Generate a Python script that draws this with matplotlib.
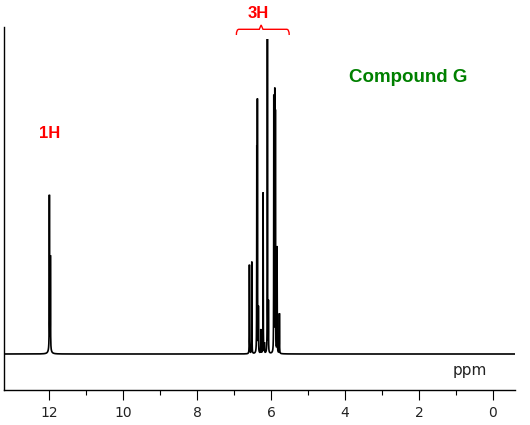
import numpy as np
import matplotlib
matplotlib.use("Agg")
import matplotlib.pyplot as plt
from matplotlib.path import Path
from matplotlib.patches import PathPatch

# Peak list: chemical shift (ppm) and height (arb. units)
peak_ppm = [12.000, 11.972,
            6.587, 6.522, 6.387, 6.371, 6.344, 6.279, 6.216, 6.181,
            6.100, 6.073, 5.927, 5.900, 5.884, 5.838, 5.775]
peak_height = [152, 92,
               89, 92, 200, 248, 44, 24, 161, 10,
               314, 50, 255, 255, 234, 106, 40]
# broad base under the acid proton
broad_ppm = [11.99]
broad_height = [7]

major_ticks = [12, 10, 8, 6, 4, 2, 0]
minor_ticks = [11, 9, 7, 5, 3, 1]
tick_labels = ["12", "10", "8", "6", "4", "2", "0"]

x = np.linspace(13.3, -0.7, 80001)
y = np.zeros_like(x)
g = 0.003
for p, h in zip(peak_ppm, peak_height):
    y += h * g**2 / ((x - p)**2 + g**2)
gb = 0.03
for p, h in zip(broad_ppm, broad_height):
    y += h * gb**2 / ((x - p)**2 + gb**2)

fig = plt.figure(figsize=(5.3, 4.25), dpi=100)
ax = fig.add_axes([4.3/530, 1 - 390/425, (515-4.3)/530, (390-27)/425])
ax.plot(x, y, color="black", lw=1.2, solid_joinstyle="miter")
ax.set_xlim(13.22, -0.60)
ax.set_ylim(-36, 327)

for s in ["top", "right"]:
    ax.spines[s].set_visible(False)
for s in ["left", "bottom"]:
    ax.spines[s].set_linewidth(1.0)
    ax.spines[s].set_color("black")
ax.set_yticks([])
ax.set_xticks(major_ticks)
ax.set_xticklabels(tick_labels, fontsize=10, fontfamily="DejaVu Sans", color="#222222")
ax.set_xticks(minor_ticks, minor=True)
ax.tick_params(axis="x", which="major", direction="out", length=7.5, width=0.8, pad=4)
ax.tick_params(axis="x", which="minor", direction="out", length=3.8, width=0.8)

# bracket over the 3H multiplet
xl, xr, xt = 6.94, 5.51, 6.27
yb, ys, yt = 319, 324.7, 329
verts = [(xl, yb), (xl, ys), (xl - 0.07, ys),
         (xt + 0.05, ys), (xt, yt), (xt - 0.05, ys),
         (xr + 0.07, ys), (xr, ys), (xr, yb)]
codes = [Path.MOVETO, Path.CURVE3, Path.CURVE3,
         Path.LINETO, Path.LINETO, Path.LINETO,
         Path.LINETO, Path.CURVE3, Path.CURVE3]
ax.add_patch(PathPatch(Path(verts, codes), fill=False, edgecolor="#ff0000",
                       lw=1.0, clip_on=False))

ax.text(6.35, 341, "3H", color="#ff0000", fontsize=12, fontweight="bold",
        fontfamily="Liberation Sans", ha="center", va="center", clip_on=False)
ax.text(12.0, 221, "1H", color="#ff0000", fontsize=12, fontweight="bold",
        fontfamily="Liberation Sans", ha="center", va="center")
ax.text(2.29, 277, "Compound G", color="#008000", fontsize=13.5, fontweight="bold",
        fontfamily="Liberation Sans", ha="center", va="center")
ax.text(0.614, -16, "ppm", color="#222222", fontsize=11,
        fontfamily="DejaVu Sans", ha="center", va="center")

fig.savefig("out.png", dpi=100)
